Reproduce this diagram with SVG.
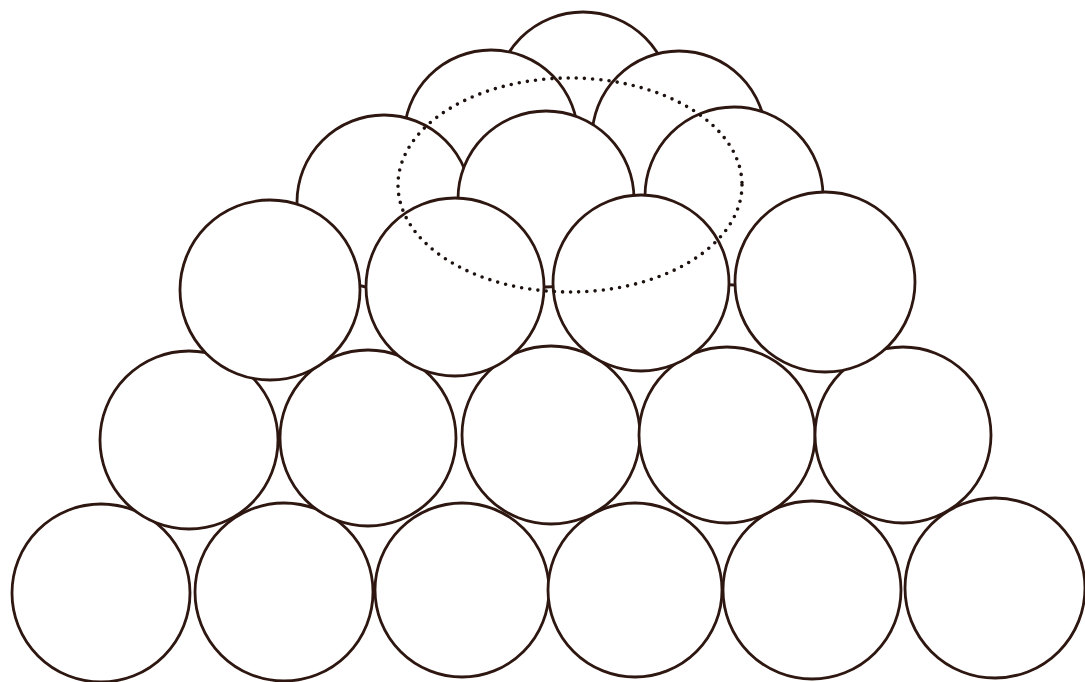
<svg xmlns="http://www.w3.org/2000/svg" width="1085" height="682" viewBox="0 0 1085 682">
<style>
.b{fill:#fff;stroke:#2e1710;stroke-width:2.8}
.d{fill:none;stroke:#1e1210;stroke-width:3.6;stroke-linecap:round;stroke-dasharray:0 8.2}
</style>
<rect width="1085" height="682" fill="#fff"/>
<g id="back-layers">
<circle class="b" cx="583" cy="100" r="88"/>
<circle class="b" cx="491" cy="137" r="87"/>
<circle class="b" cx="679" cy="138" r="87"/>
<circle class="b" cx="384" cy="202" r="87"/>
<circle class="b" cx="546" cy="199" r="88"/>
<circle class="b" cx="734" cy="196" r="89"/>
</g>
<g id="row1">
<circle class="b" cx="101" cy="593" r="89"/>
<circle class="b" cx="284" cy="592" r="89"/>
<circle class="b" cx="462" cy="590" r="87"/>
<circle class="b" cx="635" cy="590" r="87"/>
<circle class="b" cx="812" cy="590" r="89"/>
<circle class="b" cx="995" cy="588" r="90"/>
</g>
<g id="row2">
<circle class="b" cx="189" cy="440" r="89"/>
<circle class="b" cx="368" cy="438" r="88"/>
<circle class="b" cx="551" cy="435" r="89"/>
<circle class="b" cx="727" cy="435" r="88"/>
<circle class="b" cx="903" cy="435" r="88"/>
</g>
<g id="row3">
<circle class="b" cx="270" cy="290" r="90"/>
<circle class="b" cx="455" cy="287" r="89"/>
<circle class="b" cx="641" cy="283" r="88"/>
<circle class="b" cx="825" cy="282" r="90"/>
</g>
<g id="dotted-ellipse">
<ellipse class="d" cx="570" cy="185" rx="172" ry="107"/>
</g>
</svg>
